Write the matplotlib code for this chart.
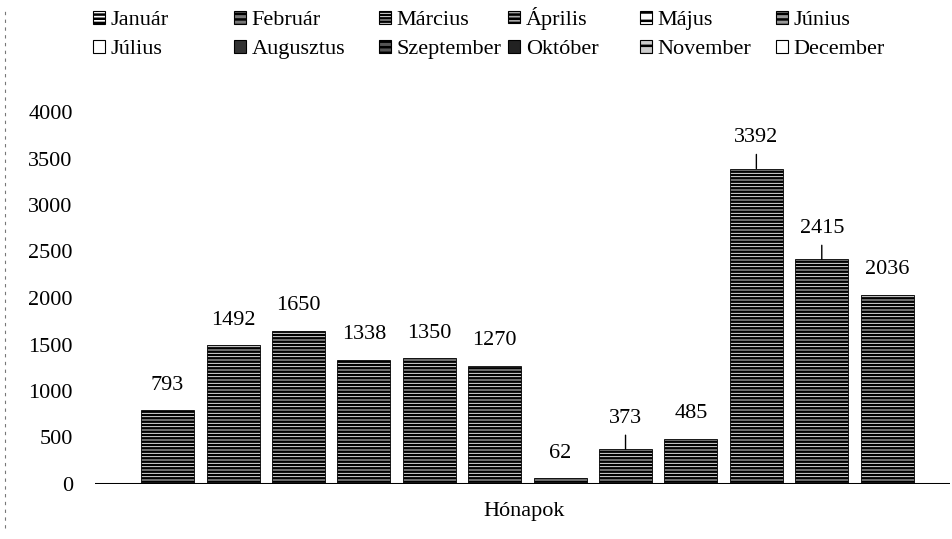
import numpy as np
import matplotlib.pyplot as plt
from matplotlib.lines import Line2D
from matplotlib.patches import Patch

FONT = 'Liberation Serif'
plt.rcParams['hatch.linewidth'] = 1.8

honapok = ["Január", "Február", "Március", "Április", "Május", "Június",
           "Július", "Augusztus", "Szeptember", "Október", "November", "December"]
ertekek = [793, 1492, 1650, 1338, 1350, 1270, 62, 373, 485, 3392, 2415, 2036]
# labels that sit higher with a small leader line
vonalas = [7, 9, 10]

# legend swatches (the scan shows a different pattern per month)
leg_hatch = ['----', '---', '-----', '----', '--', '---',
             '', '', '---', '', '--', '']
leg_face = ['white', '#777777', 'white', '#aaaaaa', 'white', '#999999',
            'white', '#333333', '#555555', '#222222', '#cccccc', 'white']

fig = plt.figure(figsize=(9.53, 5.39), dpi=100, facecolor='white')
ax = fig.add_axes([95/953, 55/539, 855/953, 372/539])

x = np.arange(len(ertekek))
for i, v in enumerate(ertekek):
    ax.bar(x[i], v, width=0.81, color='white', edgecolor='black',
           linewidth=0.6, hatch='-----', label=honapok[i])
    if i in vonalas:
        ax.annotate(str(v), xy=(x[i], v), xytext=(0, 22), textcoords='offset points',
                    ha='center', va='center', fontsize=16, family=FONT,
                    arrowprops=dict(arrowstyle='-', color='black', lw=1,
                                    shrinkA=3, shrinkB=0))
    else:
        ax.annotate(str(v), xy=(x[i], v), xytext=(0, 18), textcoords='offset points',
                    ha='center', va='center', fontsize=16, family=FONT)

ax.axhline(0, color='black', lw=2.2)
ax.set_xlim(-1.11, 11.96)
ax.set_ylim(0, 4000)
yt = np.arange(0, 4001, 500)
ax.set_yticks(yt)
ax.set_yticklabels([str(v) for v in yt], family=FONT, fontsize=16)
ax.set_xticks([])
ax.tick_params(axis='y', length=0, pad=16)
for s in ax.spines.values():
    s.set_visible(False)
ax.set_xlabel("Hónapok", fontsize=16, family=FONT)
ax.xaxis.set_label_coords(429/855, -18/372)

# legend, 6 columns of two rows
oszlop_x = [93, 234, 379, 508, 640, 776]
oszlop_dy = [0, 0, 0, 4, 0, 0]
for c in range(6):
    h = [Patch(facecolor=leg_face[k], edgecolor='black', hatch=leg_hatch[k], lw=0.8)
         for k in (c, c + 6)]
    l = [honapok[c], honapok[c + 6]]
    fig.legend(h, l, loc='upper left',
               bbox_to_anchor=(oszlop_x[c]/953, 1 - (11 - oszlop_dy[c])/539),
               frameon=False, prop=dict(family=FONT, size=16),
               handlelength=0.55, handleheight=0.5,
               handletextpad=0.25, labelspacing=0.45, borderaxespad=0, borderpad=0)

# scan border artefact at the left edge
fig.add_artist(Line2D([5/953, 5/953], [0.02, 0.98], color='#777777', lw=0.8,
                      linestyle=(0, (3, 4)), transform=fig.transFigure))

plt.savefig("out.png", dpi=100, facecolor='white')
